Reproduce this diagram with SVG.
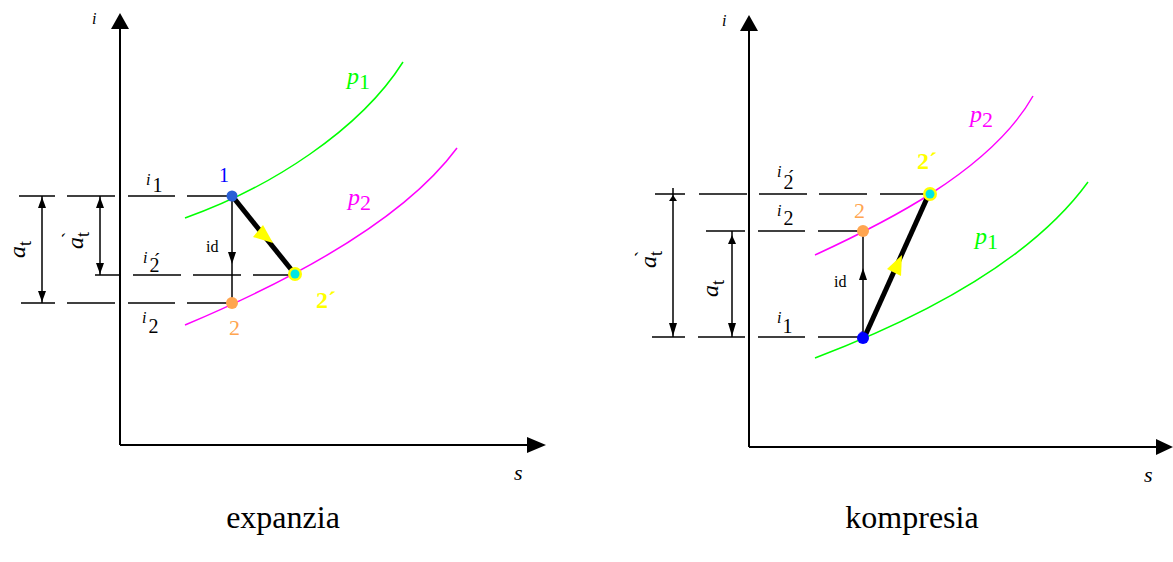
<svg xmlns="http://www.w3.org/2000/svg" width="1173" height="562" viewBox="0 0 1173 562">
<style>
.ax{stroke:#000;stroke-width:2;fill:none}
.ln{stroke:#000;stroke-width:1.5;fill:none}
.thick{stroke:#000;stroke-width:5;fill:none}
.g{stroke:#00ff00;stroke-width:1.5;fill:none}
.m{stroke:#ff00ff;stroke-width:1.5;fill:none}
.ar{fill:#000}
.ya{fill:#ffff00}
.t{font-family:"Liberation Serif","Times New Roman",serif}
.it{font-style:italic}
.cap{font-family:"Liberation Serif","Times New Roman",serif;font-size:32px}
</style>

<g id="connectors">
<!-- LEFT axes -->
<line class="ax" x1="120" y1="445" x2="120" y2="26"/>
<polygon class="ar" points="120,13 111,29 129,29"/>
<line class="ax" x1="120" y1="445" x2="530" y2="445"/>
<polygon class="ar" points="546,445 527,437 527,453"/>
<!-- LEFT levels -->
<g class="ln">
<line x1="19" y1="196" x2="55" y2="196"/><line x1="67" y1="196" x2="115" y2="196"/><line x1="128" y1="196" x2="175" y2="196"/><line x1="187" y1="196" x2="232" y2="196"/>
<line x1="95" y1="275" x2="120" y2="275"/><line x1="133" y1="275" x2="181" y2="275"/><line x1="193" y1="275" x2="241" y2="275"/><line x1="253" y1="275" x2="293" y2="275"/>
<line x1="21" y1="303" x2="55" y2="303"/><line x1="67" y1="303" x2="115" y2="303"/><line x1="128" y1="303" x2="175" y2="303"/><line x1="187" y1="303" x2="232" y2="303"/>
<line x1="42" y1="196" x2="42" y2="303"/>
<line x1="100" y1="196" x2="100" y2="275"/>
<line x1="232" y1="196" x2="232" y2="303"/>
</g>
<polygon class="ar" points="42,197 38,208 46,208"/>
<polygon class="ar" points="42,302 38,291 46,291"/>
<polygon class="ar" points="100,197 96,208 104,208"/>
<polygon class="ar" points="100,274 96,263 104,263"/>
<polygon class="ar" points="232,264 228,252 236,252"/>
<!-- LEFT curves -->
<path class="g" d="M185,218 C270,188 360,130 403,62"/>
<path class="m" d="M185,325 C280,285 400,225 457,148"/>
<line class="thick" x1="233" y1="197" x2="294" y2="273"/>
<polygon class="ya" points="253,237 263,225 273,243"/>

<!-- RIGHT axes -->
<line class="ax" x1="749" y1="447" x2="749" y2="28"/>
<polygon class="ar" points="749,15 740,31 758,31"/>
<line class="ax" x1="749" y1="447" x2="1160" y2="447"/>
<polygon class="ar" points="1173,447 1156,439 1156,455"/>
<!-- RIGHT levels -->
<g class="ln">
<line x1="655" y1="194" x2="685" y2="194"/><line x1="699" y1="194" x2="747" y2="194"/><line x1="759" y1="194" x2="807" y2="194"/><line x1="819" y1="194" x2="867" y2="194"/><line x1="880" y1="194" x2="930" y2="194"/>
<line x1="706" y1="231" x2="745" y2="231"/><line x1="758" y1="231" x2="805" y2="231"/><line x1="818" y1="231" x2="863" y2="231"/>
<line x1="652" y1="337" x2="685" y2="337"/><line x1="698" y1="337" x2="745" y2="337"/><line x1="758" y1="337" x2="805" y2="337"/><line x1="818" y1="337" x2="863" y2="337"/>
<line x1="673" y1="188" x2="673" y2="337"/>
<line x1="732" y1="231" x2="732" y2="337"/>
<line x1="863" y1="231" x2="863" y2="337"/>
</g>
<polygon class="ar" points="673,195 669,201 677,201"/>
<polygon class="ar" points="673,336 669,323 677,323"/>
<polygon class="ar" points="732,235 728,244 736,244"/>
<polygon class="ar" points="732,336 728,323 736,323"/>
<polygon class="ar" points="863,268 859,280 867,280"/>
<!-- RIGHT curves -->
<path class="g" d="M815,358 C920,318 1030,262 1088,182"/>
<path class="m" d="M815,255 C880,225 990,172 1033,96"/>
<line class="thick" x1="865" y1="336" x2="928" y2="196"/>
<polygon class="ya" points="902,255 887,269 901,276"/>
</g>

<!-- LEFT diagram texts/nodes -->
<g id="axis-left-labels" class="t it">
<text x="92" y="24" font-size="16">i</text>
<text x="514" y="480" font-size="22">s</text>
</g>
<g id="level-labels-left" class="t">
<text x="146" y="185" font-size="16"><tspan class="it">i</tspan><tspan dx="2" dy="7" font-size="20">1</tspan></text>
<text x="143" y="263" font-size="16"><tspan class="it">i</tspan><tspan dx="2" dy="9" font-size="20">2́</tspan></text>
<text x="142" y="323" font-size="16"><tspan class="it">i</tspan><tspan dx="2" dy="10" font-size="20">2</tspan></text>
</g>
<g id="dim-left" class="t">
<text transform="translate(25,258) rotate(-90)" font-size="24"><tspan class="it">a</tspan><tspan dy="6" font-size="18">t</tspan></text>
<text transform="translate(83,249) rotate(-90)" font-size="24"><tspan class="it">a</tspan><tspan dy="6" font-size="18">t</tspan><tspan dx="-6" dy="-14" font-size="18">`</tspan></text>
</g>
<g id="node-1-left">
<circle cx="232" cy="196" r="5.5" fill="#2a5fd6"/>
<text class="t" x="219" y="182" font-size="20" fill="#0000ff">1</text>
</g>
<g id="node-2-left">
<circle cx="232" cy="303" r="6" fill="#ffa54f"/>
<text class="t" x="229" y="335" font-size="22" fill="#ffa54f">2</text>
</g>
<g id="node-2p-left">
<circle cx="295" cy="274" r="7" fill="#ffff00"/>
<circle cx="295" cy="274" r="4.5" fill="#00e5e5"/>
<text class="t" x="316" y="308" font-size="24" font-weight="bold" fill="#ffff00">2´</text>
</g>
<g id="id-left"><text class="t" x="206" y="252" font-size="16">id</text></g>
<g id="p-left" class="t">
<text x="347" y="84" font-size="24" fill="#00ff00"><tspan class="it">p</tspan><tspan dy="5" font-size="22">1</tspan></text>
<text x="348" y="205" font-size="24" fill="#ff00ff"><tspan class="it">p</tspan><tspan dy="5" font-size="22">2</tspan></text>
</g>
<g id="caption-left"><text class="cap" x="283" y="528" text-anchor="middle">expanzia</text></g>

<!-- RIGHT diagram texts/nodes -->
<g id="axis-right-labels" class="t it">
<text x="722" y="26" font-size="16">i</text>
<text x="1144" y="482" font-size="22">s</text>
</g>
<g id="level-labels-right" class="t">
<text x="777" y="177" font-size="16"><tspan class="it">i</tspan><tspan dx="2" dy="12" font-size="20">2́</tspan></text>
<text x="777" y="216" font-size="16"><tspan class="it">i</tspan><tspan dx="2" dy="9" font-size="20">2</tspan></text>
<text x="777" y="323" font-size="16"><tspan class="it">i</tspan><tspan dx="1" dy="10" font-size="20">1</tspan></text>
</g>
<g id="dim-right" class="t">
<text transform="translate(656,268) rotate(-90)" font-size="24"><tspan class="it">a</tspan><tspan dy="6" font-size="18">t</tspan><tspan dx="-6" dy="-14" font-size="18">`</tspan></text>
<text transform="translate(718,297) rotate(-90)" font-size="24"><tspan class="it">a</tspan><tspan dy="6" font-size="18">t</tspan></text>
</g>
<g id="node-1-right">
<text class="t" x="858" y="341" font-size="15" fill="#0000ff">1</text>
<circle cx="863" cy="338" r="6" fill="#0000ff"/>
</g>
<g id="node-2-right">
<circle cx="863" cy="231" r="6" fill="#ffa54f"/>
<text class="t" x="854" y="218" font-size="22" fill="#ffa54f">2</text>
</g>
<g id="node-2p-right">
<circle cx="930" cy="194" r="7" fill="#ffff00"/>
<circle cx="930" cy="194" r="4.5" fill="#00e5e5"/>
<text class="t" x="917" y="169" font-size="24" font-weight="bold" fill="#ffff00">2´</text>
</g>
<g id="id-right"><text class="t" x="834" y="287" font-size="16">id</text></g>
<g id="p-right" class="t">
<text x="975" y="244" font-size="24" fill="#00ff00"><tspan class="it">p</tspan><tspan dy="5" font-size="22">1</tspan></text>
<text x="970" y="122" font-size="24" fill="#ff00ff"><tspan class="it">p</tspan><tspan dy="5" font-size="22">2</tspan></text>
</g>
<g id="caption-right"><text class="cap" x="912" y="528" text-anchor="middle">kompresia</text></g>
</svg>
